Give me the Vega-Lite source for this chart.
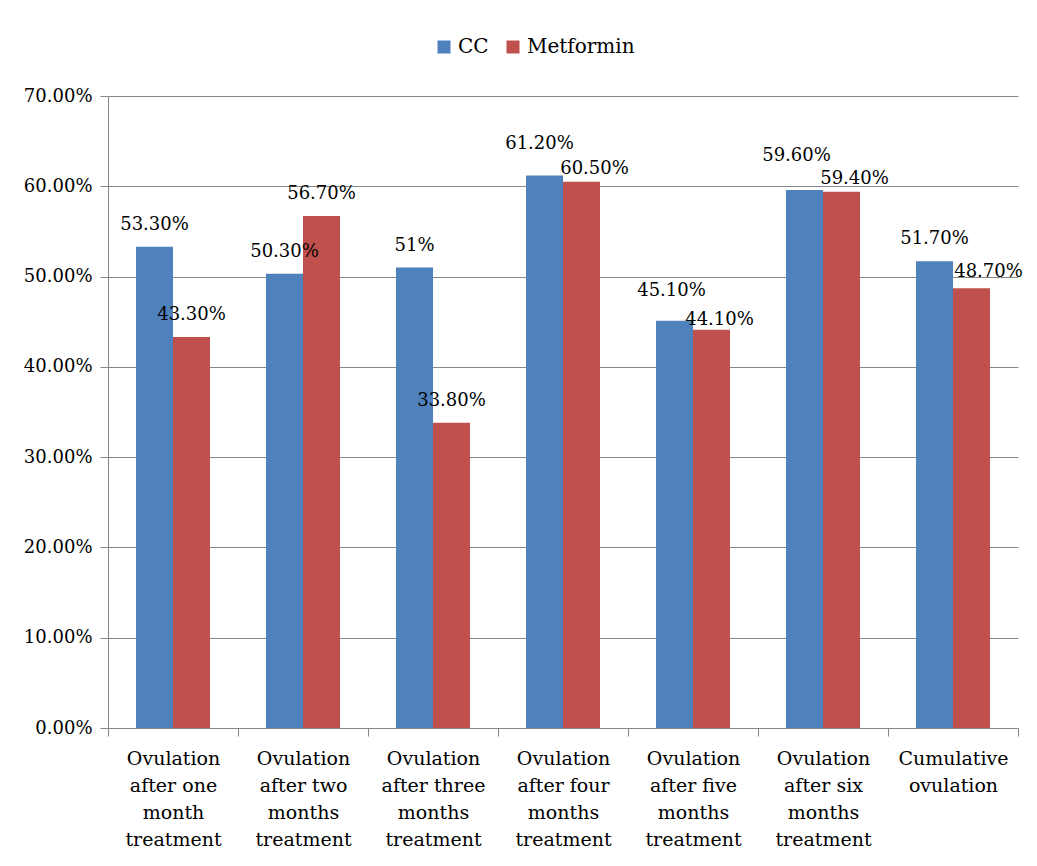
{
  "$schema": "https://vega.github.io/schema/vega-lite/v6.json",
  "autosize": "none",
  "width": 910,
  "height": 632,
  "padding": {"left": 108, "top": 96, "right": 19, "bottom": 138},
  "background": "white",
  "config": {
    "font": "DejaVu Serif",
    "view": {"stroke": null},
    "text": {"font": "DejaVu Serif", "fontSize": 18, "color": "#000000", "baseline": "alphabetic"},
    "axis": {"labelFont": "DejaVu Serif", "labelColor": "#000000", "domainColor": "#868686", "tickColor": "#868686", "gridColor": "#868686", "labelFontSize": 18}
  },
  "data": {
    "values": [
      {"cat": "Ovulation|after one|month|treatment", "group": "CC", "value": 0.533, "label": "53.30%"},
      {"cat": "Ovulation|after one|month|treatment", "group": "Metformin", "value": 0.433, "label": "43.30%"},
      {"cat": "Ovulation|after two|months|treatment", "group": "CC", "value": 0.503, "label": "50.30%"},
      {"cat": "Ovulation|after two|months|treatment", "group": "Metformin", "value": 0.567, "label": "56.70%"},
      {"cat": "Ovulation|after three|months|treatment", "group": "CC", "value": 0.51, "label": "51%"},
      {"cat": "Ovulation|after three|months|treatment", "group": "Metformin", "value": 0.338, "label": "33.80%"},
      {"cat": "Ovulation|after four|months|treatment", "group": "CC", "value": 0.612, "label": "61.20%"},
      {"cat": "Ovulation|after four|months|treatment", "group": "Metformin", "value": 0.605, "label": "60.50%"},
      {"cat": "Ovulation|after five|months|treatment", "group": "CC", "value": 0.451, "label": "45.10%"},
      {"cat": "Ovulation|after five|months|treatment", "group": "Metformin", "value": 0.441, "label": "44.10%"},
      {"cat": "Ovulation|after six|months|treatment", "group": "CC", "value": 0.596, "label": "59.60%"},
      {"cat": "Ovulation|after six|months|treatment", "group": "Metformin", "value": 0.594, "label": "59.40%"},
      {"cat": "Cumulative|ovulation", "group": "CC", "value": 0.517, "label": "51.70%"},
      {"cat": "Cumulative|ovulation", "group": "Metformin", "value": 0.487, "label": "48.70%"}
    ]
  },
  "encoding": {
    "x": {
      "field": "cat", "type": "nominal", "sort": null,
      "scale": {"paddingInner": 0, "paddingOuter": 0},
      "axis": {"title": null, "labelAngle": 0, "labelExpr": "split(datum.label, '|')", "labelFontSize": 19, "labelLineHeight": 27, "labelPadding": 13, "tickSize": 8, "tickBand": "extent", "labelBaseline": "top"}
    },
    "xOffset": {"field": "group", "type": "nominal", "scale": {"paddingInner": 0, "paddingOuter": 0.757}},
    "y": {
      "field": "value", "type": "quantitative",
      "scale": {"domain": [0, 0.7], "nice": false},
      "axis": {"title": null, "format": ".2%", "values": [0, 0.1, 0.2, 0.3, 0.4, 0.5, 0.6, 0.7], "tickSize": 8, "labelPadding": 8, "grid": true}
    },
    "text": {"field": "label"}
  },
  "layer": [
    {
      "mark": {"type": "bar"},
      "encoding": {
        "color": {
          "field": "group", "type": "nominal",
          "scale": {"domain": ["CC", "Metformin"], "range": ["#4F81BD", "#C0504D"]},
          "legend": {"title": null, "orient": "none", "direction": "horizontal", "legendX": 326, "legendY": -59, "symbolType": "square", "symbolSize": 169, "symbolStrokeWidth": 0, "labelFont": "DejaVu Serif", "labelFontSize": 20, "labelColor": "#000000", "columnPadding": 14, "labelOffset": 4}
        }
      }
    },
    {
      "transform": [{"filter": {"field": "label", "oneOf": ["53.30%", "43.30%", "50.30%", "56.70%", "51%", "33.80%", "51.70%"]}}],
      "mark": {"type": "text", "dy": -17}
    },
    {
      "transform": [{"filter": {"field": "label", "equal": "61.20%"}}],
      "mark": {"type": "text", "dx": -5, "dy": -26}
    },
    {
      "transform": [{"filter": {"field": "label", "oneOf": ["60.50%", "59.40%"]}}],
      "mark": {"type": "text", "dx": 13, "dy": -8}
    },
    {
      "transform": [{"filter": {"field": "label", "equal": "59.60%"}}],
      "mark": {"type": "text", "dx": -8, "dy": -29}
    },
    {
      "transform": [{"filter": {"field": "label", "equal": "45.10%"}}],
      "mark": {"type": "text", "dx": -3, "dy": -25}
    },
    {
      "transform": [{"filter": {"field": "label", "equal": "44.10%"}}],
      "mark": {"type": "text", "dx": 8, "dy": -5}
    },
    {
      "transform": [{"filter": {"field": "label", "equal": "48.70%"}}],
      "mark": {"type": "text", "dx": 17, "dy": -11}
    }
  ]
}
